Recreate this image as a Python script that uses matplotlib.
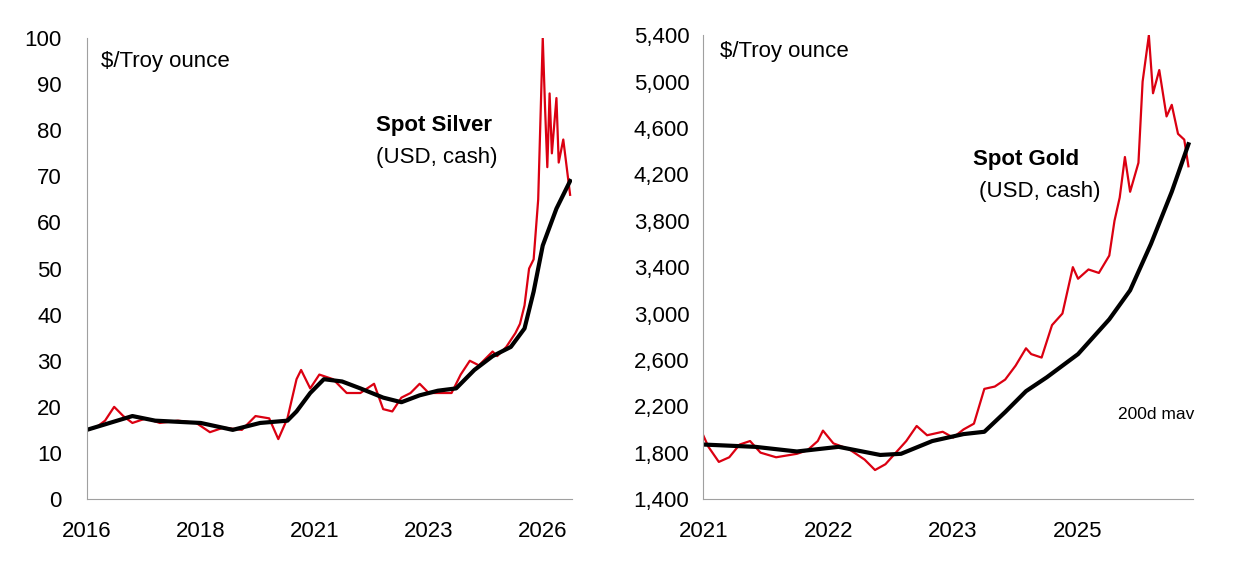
import numpy as np
import matplotlib
matplotlib.use("Agg")
import matplotlib.pyplot as plt

# Silver (x in positional years; ticks every 2.5 "years")
silver_x = [2016.0, 2016.2, 2016.4, 2016.6, 2016.8, 2017.0, 2017.3, 2017.6, 2018.0, 2018.4,
            2018.7, 2019.0, 2019.4, 2019.7, 2020.0, 2020.2, 2020.4, 2020.6, 2020.7, 2020.9,
            2021.1, 2021.4, 2021.7, 2022.0, 2022.3, 2022.5, 2022.7, 2022.9, 2023.1, 2023.3,
            2023.5, 2023.8, 2024.0, 2024.2, 2024.4, 2024.6, 2024.9, 2025.0, 2025.2, 2025.4,
            2025.5, 2025.6, 2025.7, 2025.8, 2025.9, 2026.0, 2026.05, 2026.1, 2026.15, 2026.2,
            2026.3, 2026.35, 2026.45, 2026.55, 2026.6]
silver_y = [15, 15.5, 17, 20, 18, 16.5, 17.5, 16.5, 17, 16.5,
            14.5, 15.5, 15, 18, 17.5, 13, 17.5, 26, 28, 24,
            27, 26, 23, 23, 25, 19.5, 19, 22, 23, 25,
            23, 23, 23, 27, 30, 29, 32, 31, 33, 36,
            38, 42, 50, 52, 65, 100, 85, 72, 88, 75,
            87, 73, 78, 70, 66]
silver_ma_x = [2016.0, 2016.5, 2017.0, 2017.5, 2018.5, 2019.2, 2019.8, 2020.4, 2020.6, 2020.9,
               2021.2, 2021.6, 2022.0, 2022.5, 2022.9, 2023.3, 2023.7, 2024.1, 2024.5, 2024.9,
               2025.3, 2025.6, 2025.8, 2026.0, 2026.3, 2026.6]
silver_ma_y = [15, 16.5, 18, 17, 16.5, 15, 16.5, 17, 19, 23,
               26, 25.5, 24, 22, 21, 22.5, 23.5, 24, 28, 31,
               33, 37, 45, 55, 63, 69]
silver_ticks = [2016.0, 2018.5, 2021.0, 2023.5, 2026.0]
silver_labels = ["2016", "2018", "2021", "2023", "2026"]

# Gold (x in positional years; ticks every 1.2 "years")
gold_x = [2021.0, 2021.05, 2021.15, 2021.25, 2021.35, 2021.45, 2021.55, 2021.7, 2021.9, 2022.0,
          2022.1, 2022.15, 2022.25, 2022.4, 2022.55, 2022.65, 2022.75, 2022.85, 2022.95, 2023.05,
          2023.15, 2023.3, 2023.4, 2023.5, 2023.6, 2023.7, 2023.8, 2023.9, 2024.0, 2024.1,
          2024.15, 2024.25, 2024.35, 2024.45, 2024.55, 2024.6, 2024.7, 2024.8, 2024.9, 2024.95,
          2025.0, 2025.05, 2025.1, 2025.18, 2025.22, 2025.28, 2025.32, 2025.38, 2025.45, 2025.5,
          2025.56, 2025.62, 2025.66]
gold_y = [1950, 1850, 1720, 1760, 1870, 1900, 1800, 1760, 1790, 1820,
          1900, 1990, 1880, 1830, 1740, 1650, 1700, 1800, 1900, 2030,
          1950, 1980, 1930, 2000, 2050, 2350, 2370, 2430, 2550, 2700,
          2650, 2620, 2900, 3000, 3400, 3300, 3380, 3350, 3500, 3800,
          4000, 4350, 4050, 4300, 5000, 5400, 4900, 5100, 4700, 4800,
          4550, 4500, 4270]
gold_ma_x = [2021.0, 2021.5, 2021.9, 2022.3, 2022.7, 2022.9, 2023.2, 2023.5, 2023.7, 2023.9,
             2024.1, 2024.3, 2024.6, 2024.9, 2025.1, 2025.3, 2025.5, 2025.66]
gold_ma_y = [1870, 1850, 1810, 1850, 1780, 1790, 1900, 1960, 1980, 2150,
             2330, 2450, 2650, 2950, 3200, 3600, 4050, 4460]
gold_ticks = [2021.0, 2022.2, 2023.4, 2024.6]
gold_labels = ["2021", "2022", "2023", "2025"]

RED = "#DB0011"
plt.rcParams.update({"font.family": ["Liberation Sans", "DejaVu Sans"], "font.size": 16})

fig = plt.figure(figsize=(12.58, 5.69), dpi=100)
ax1 = fig.add_axes([0.069, 0.123, 0.386, 0.81])
ax2 = fig.add_axes([0.559, 0.123, 0.389, 0.815])

for ax in (ax1, ax2):
    for s in ("top", "right"):
        ax.spines[s].set_visible(False)
    for s in ("left", "bottom"):
        ax.spines[s].set_color("#A0A0A0")
    ax.tick_params(axis="x", length=0, pad=16, labelsize=16)
ax1.tick_params(axis="y", length=0, pad=18, labelsize=16)
ax2.tick_params(axis="y", length=0, pad=10, labelsize=16)

ax1.plot(silver_x, silver_y, color=RED, lw=1.6)
ax1.plot(silver_ma_x, silver_ma_y, color="black", lw=3)
ax1.set_xlim(2016.0, 2026.65)
ax1.set_ylim(0, 100)
ax1.set_yticks(range(0, 101, 10))
ax1.set_xticks(silver_ticks)
ax1.set_xticklabels(silver_labels)
ax1.text(0.03, 0.95, "$/Troy ounce", transform=ax1.transAxes, fontsize=16, va="center")
ax1.text(2022.35, 81, "Spot Silver", fontsize=16, fontweight="bold", va="center")
ax1.text(2022.35, 74, "(USD, cash)", fontsize=16, va="center")

ax2.plot(gold_x, gold_y, color=RED, lw=1.6)
ax2.plot(gold_ma_x, gold_ma_y, color="black", lw=3)
ax2.set_xlim(2021.0, 2025.7)
ax2.set_ylim(1400, 5400)
ax2.set_yticks(range(1400, 5401, 400))
ax2.set_yticklabels([f"{v:,}" for v in range(1400, 5401, 400)])
ax2.set_xticks(gold_ticks)
ax2.set_xticklabels(gold_labels)
ax2.text(0.035, 0.965, "$/Troy ounce", transform=ax2.transAxes, fontsize=16, va="center")
ax2.text(2023.59, 4330, "Spot Gold", fontsize=16, fontweight="bold", va="center")
ax2.text(2023.65, 4050, "(USD, cash)", fontsize=16, va="center")
ax2.text(2024.98, 2130, "200d mav", fontsize=12.5, va="center")

fig.savefig("out.png", dpi=100)
